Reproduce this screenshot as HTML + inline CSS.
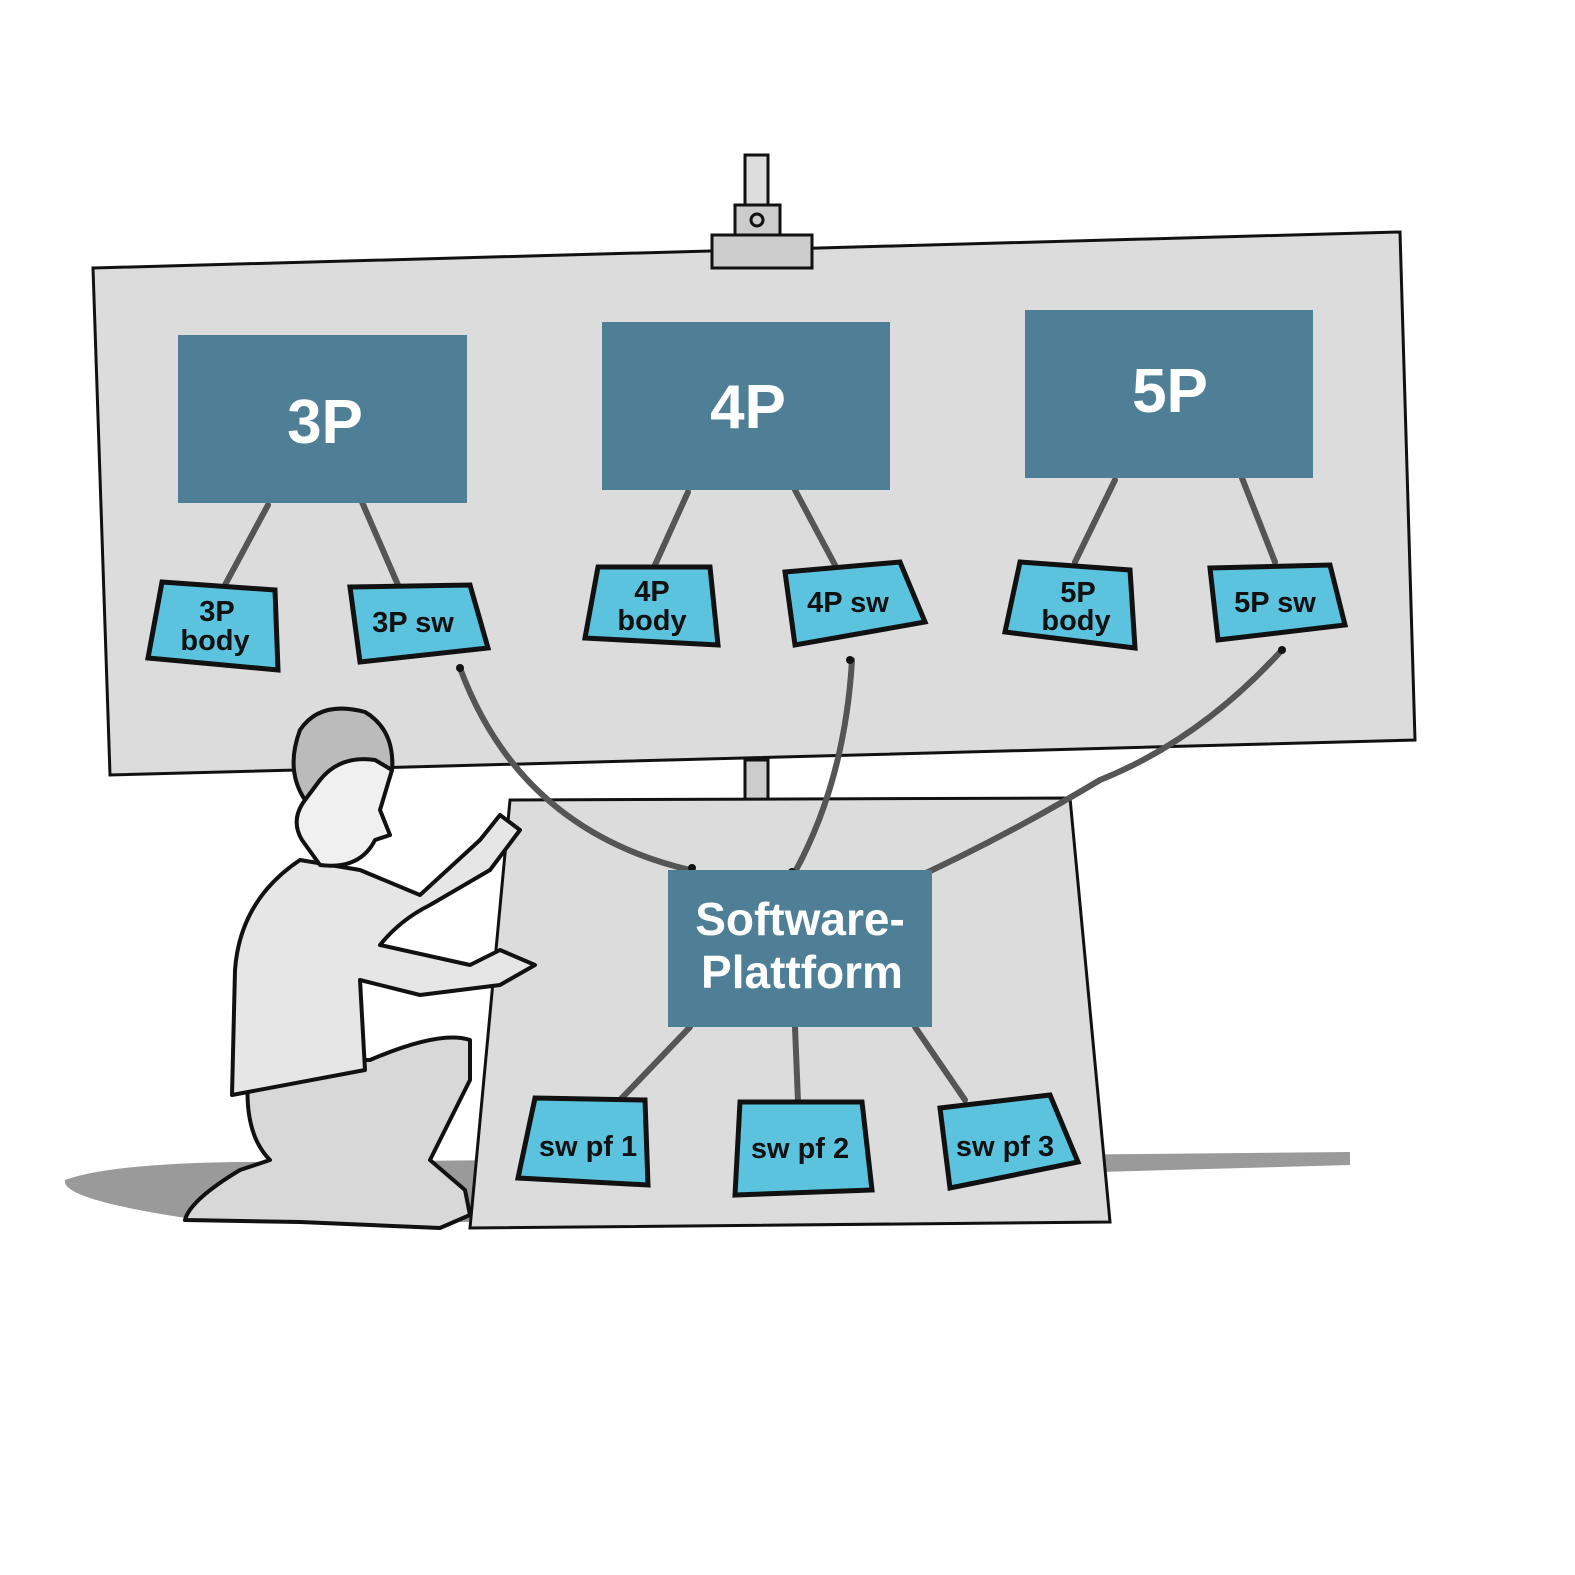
<!DOCTYPE html>
<html><head><style>html,body{margin:0;padding:0;background:#fff}svg{display:block}</style></head><body>
<svg width="1575" height="1575" viewBox="0 0 1575 1575" xmlns="http://www.w3.org/2000/svg" font-family="'Liberation Sans',sans-serif" font-weight="bold">
<path d="M65,1180 Q120,1160 300,1162 L1350,1152 L1350,1165 L1100,1172 L470,1222 L200,1220 Q60,1200 65,1180Z" fill="#9a9a9a"/>
<rect x="745" y="155" width="23" height="55" fill="#ddd" stroke="#111" stroke-width="3"/>
<rect x="735" y="205" width="45" height="32" fill="#ccc" stroke="#111" stroke-width="3"/>
<circle cx="757" cy="220" r="6" fill="none" stroke="#111" stroke-width="3"/>
<polygon points="93,268 1400,232 1415,740 110,775" fill="#dcdcdc" stroke="#111" stroke-width="3"/>
<rect x="712" y="235" width="100" height="33" fill="#ccc" stroke="#111" stroke-width="3"/>
<rect x="745" y="760" width="23" height="42" fill="#ccc" stroke="#111" stroke-width="3"/>
<polygon points="510,800 1070,798 1110,1222 470,1228" fill="#dcdcdc" stroke="#111" stroke-width="3"/>
<g stroke="#555" stroke-width="6" fill="none" stroke-linecap="round">
<path d="M268,505 L225,585"/><path d="M362,502 L398,585"/>
<path d="M688,492 L655,565"/><path d="M795,490 L835,565"/>
<path d="M1115,480 L1075,562"/><path d="M1242,478 L1275,562"/>
<path d="M460,668 Q520,830 690,870"/>
<path d="M852,660 Q845,780 795,872"/>
<path d="M1282,650 Q1200,740 1100,780 Q1000,840 900,885"/>
<path d="M690,1027 L620,1100"/><path d="M795,1027 L798,1102"/><path d="M915,1027 L965,1100"/>
</g>
<g fill="#111"><circle cx="460" cy="668" r="4"/><circle cx="850" cy="660" r="4"/><circle cx="1282" cy="650" r="4"/><circle cx="692" cy="868" r="4"/><circle cx="792" cy="872" r="4"/><circle cx="898" cy="878" r="4"/></g>
<g fill="#4f7f96">
<rect x="178" y="335" width="289" height="168"/>
<rect x="602" y="322" width="288" height="168"/>
<rect x="1025" y="310" width="288" height="168"/>
<rect x="668" y="870" width="264" height="157"/>
</g>
<g fill="#fff" font-size="62" text-anchor="middle">
<text x="325" y="443">3P</text><text x="748" y="428">4P</text><text x="1170" y="412">5P</text>
</g>
<g fill="#fff" font-size="46" text-anchor="middle">
<text x="800" y="935">Software-</text><text x="802" y="988">Plattform</text>
</g>
<g fill="#5bc3dd" stroke="#111" stroke-width="5">
<polygon points="162,582 275,590 278,670 148,658"/>
<polygon points="350,587 470,585 488,648 360,662"/>
<polygon points="598,567 710,567 718,645 585,638"/>
<polygon points="785,572 900,562 925,622 795,645"/>
<polygon points="1020,562 1130,570 1135,648 1005,632"/>
<polygon points="1210,568 1330,565 1345,625 1218,640"/>
<polygon points="535,1098 645,1100 648,1185 518,1178"/>
<polygon points="740,1102 862,1102 872,1190 735,1195"/>
<polygon points="940,1108 1050,1095 1078,1162 950,1188"/>
</g>
<g fill="#111" font-size="29" text-anchor="middle">
<text x="217" y="621">3P</text><text x="215" y="650">body</text>
<text x="413" y="632">3P sw</text>
<text x="652" y="601">4P</text><text x="652" y="630">body</text>
<text x="848" y="612">4P sw</text>
<text x="1078" y="602">5P</text><text x="1076" y="630">body</text>
<text x="1275" y="612">5P sw</text>
<text x="588" y="1156">sw pf 1</text>
<text x="800" y="1158">sw pf 2</text>
<text x="1005" y="1156">sw pf 3</text>
</g>
<g stroke="#111" stroke-width="4" stroke-linejoin="round">
<path d="M250,1060 Q240,1130 270,1160 L240,1170 Q190,1200 185,1220 L300,1222 L440,1228 L470,1215 L465,1190 L430,1160 L470,1080 L470,1040 Q440,1030 370,1060 Z" fill="#d8d8d8"/>
<path d="M300,860 Q240,900 235,970 L232,1095 L365,1070 L360,980 L420,995 L500,985 L535,965 L500,950 L470,965 L380,945 Q400,920 430,905 L490,870 L520,830 L500,815 L480,840 L420,895 L360,870 Z" fill="#e6e6e6"/>
<path d="M305,800 Q290,760 300,730 Q330,700 370,715 Q395,740 392,770 L380,810 L390,835 L375,840 Q360,870 320,865 L302,840 Q290,820 305,800Z" fill="#f0f0f0"/>
<path d="M300,730 Q320,700 365,712 Q395,730 392,770 L375,760 Q340,755 320,780 L305,800 Q285,770 300,730Z" fill="#bbb"/>
</g>
</svg>
</body></html>
